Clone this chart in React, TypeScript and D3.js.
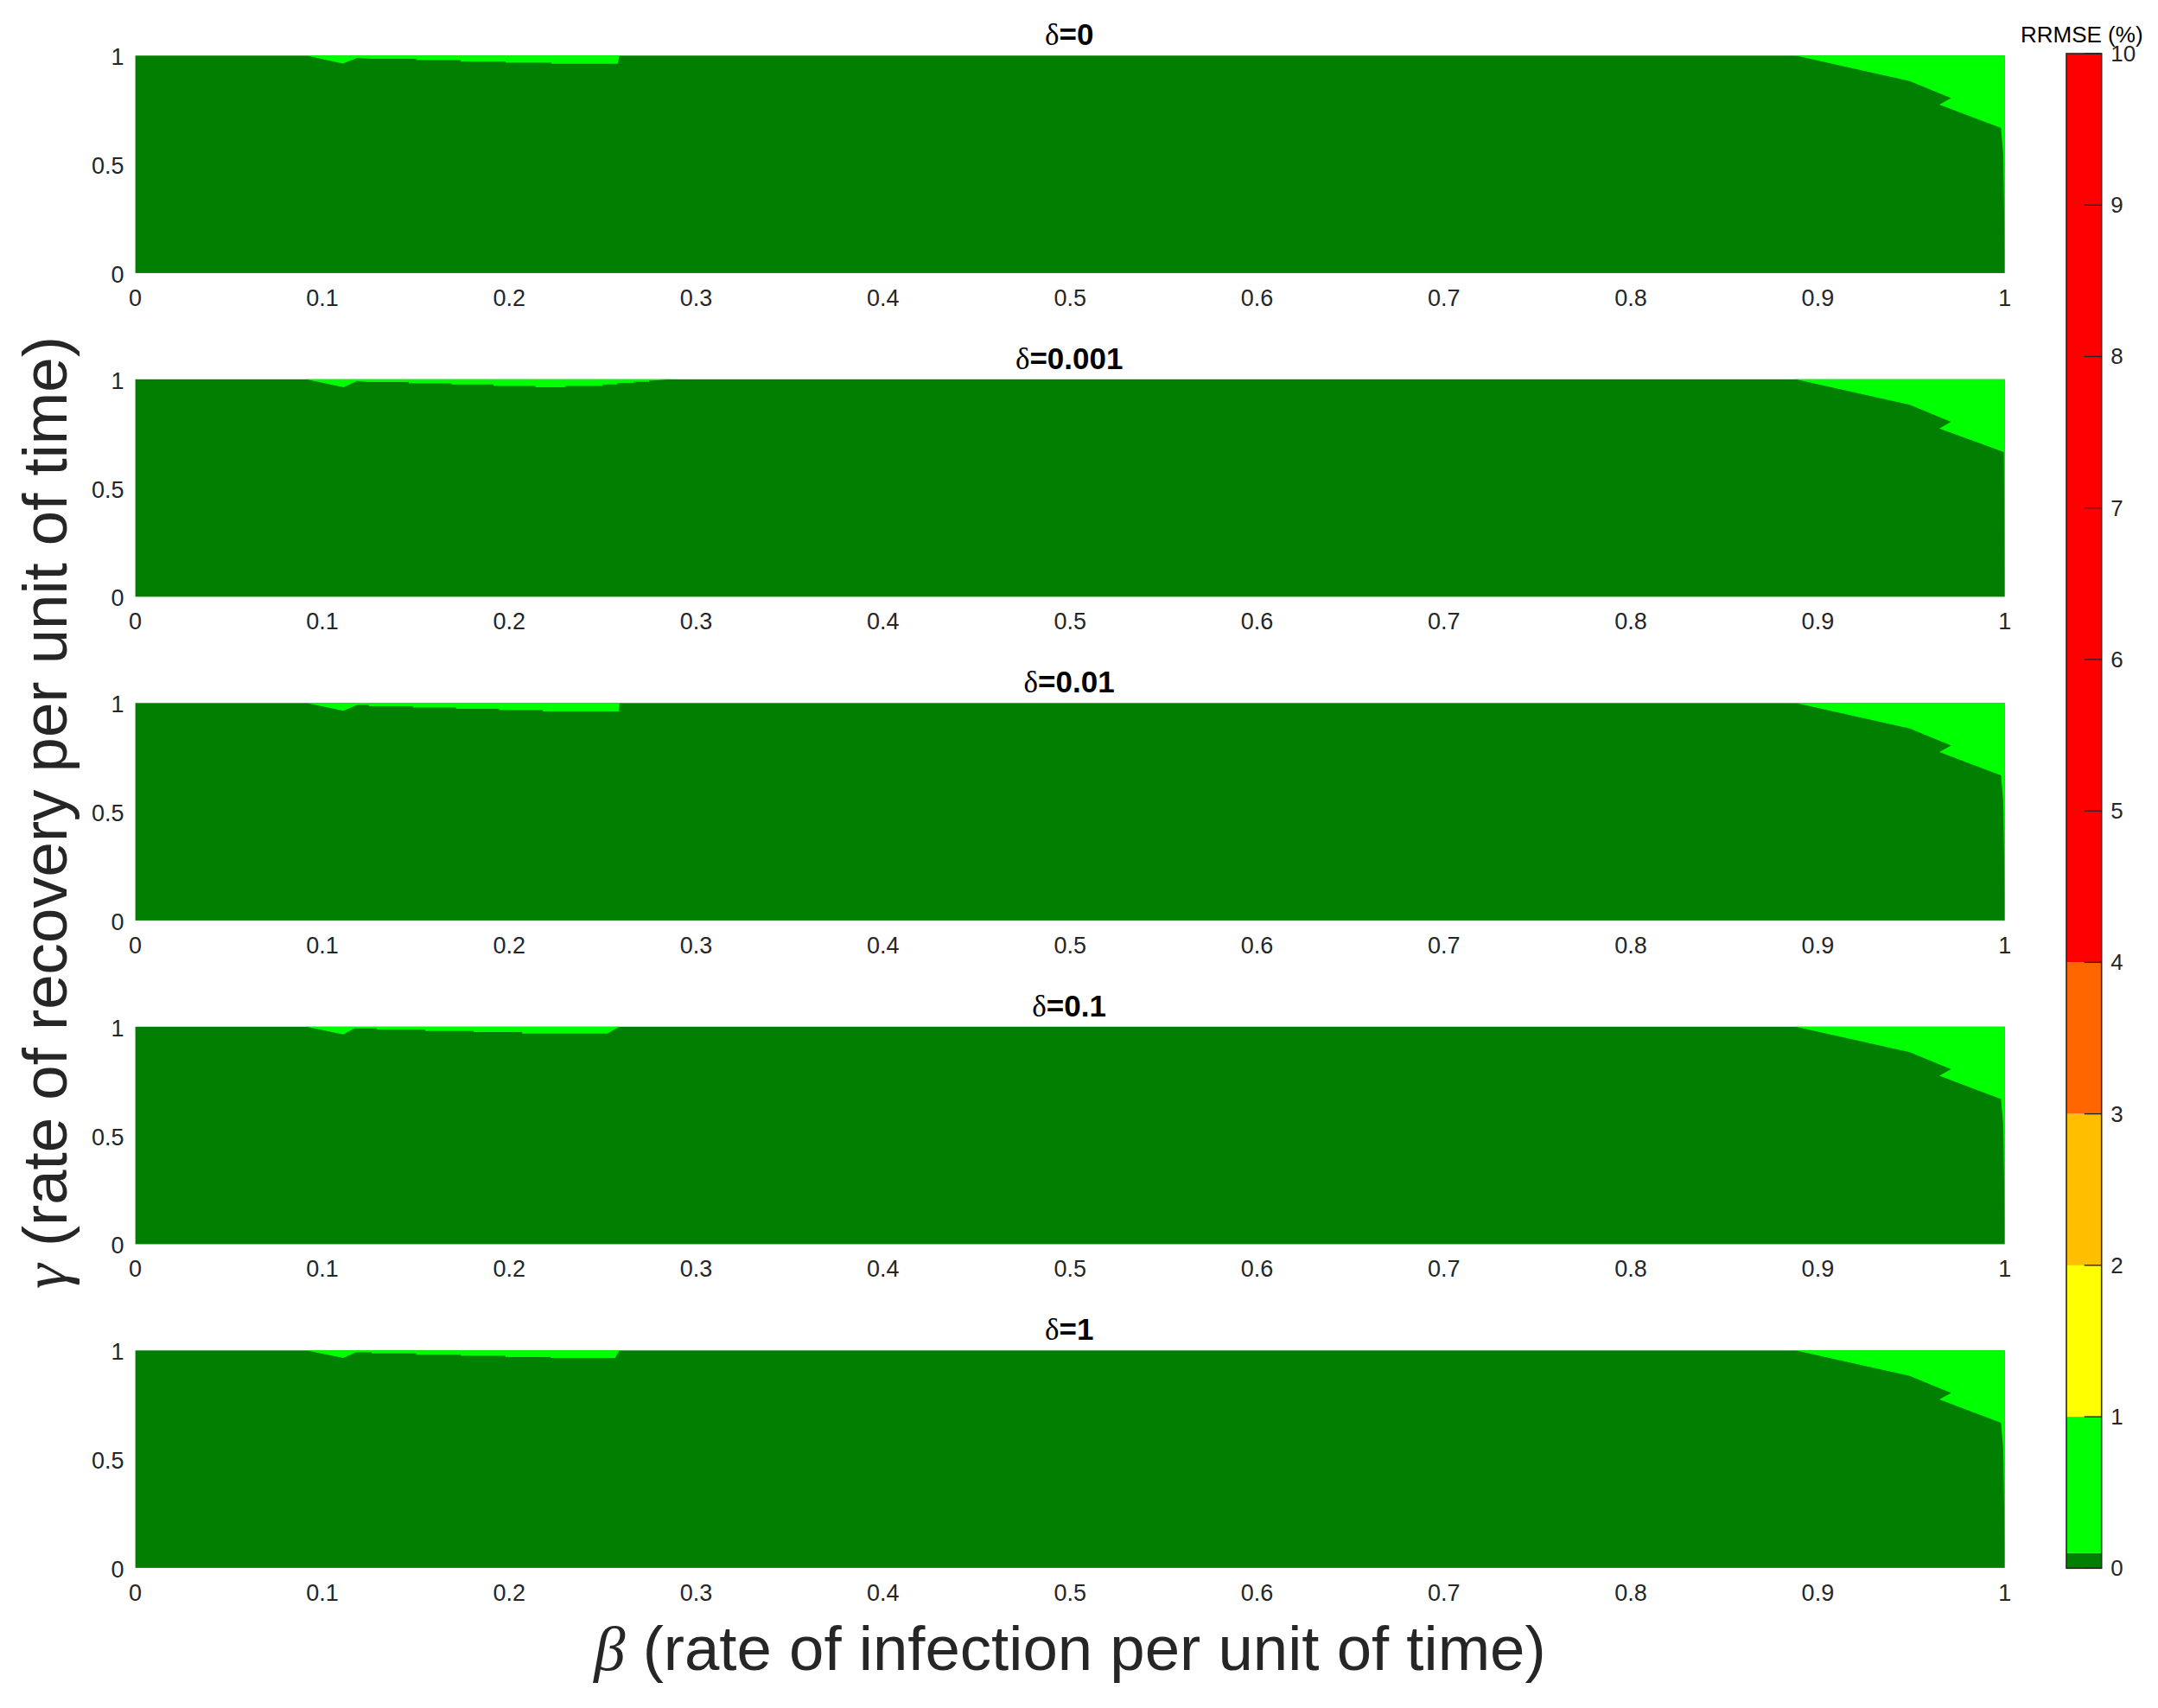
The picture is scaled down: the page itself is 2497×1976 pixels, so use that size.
import * as React from 'react';
import * as d3 from 'd3';

const WIDTH = 2497;
const HEIGHT = 1976;

const deltas = ['0', '0.001', '0.01', '0.1', '1'];
const yTicks = [0, 0.5, 1];

// boundary of the 0.1% contour near the low-beta edge, one pair of lists per panel
const lowBeta0 = [0.0913, 0.111, 0.1187, 0.1265, 0.1505, 0.1505, 0.174, 0.174, 0.198, 0.198, 0.2225, 0.2225, 0.258, 0.259];
const lowGamma0 = [1, 0.963, 0.989, 0.985, 0.985, 0.979, 0.979, 0.972, 0.972, 0.967, 0.967, 0.962, 0.962, 1];
const lowBeta1 = [0.0911, 0.1114, 0.1187, 0.1238, 0.1463, 0.1463, 0.169, 0.169, 0.1916, 0.1916, 0.214, 0.214, 0.23, 0.23, 0.2499, 0.2499, 0.2578, 0.2578, 0.2665, 0.2665, 0.2748, 0.2748, 0.2872];
const lowGamma1 = [1, 0.963, 0.992, 0.987, 0.987, 0.981, 0.981, 0.976, 0.976, 0.9695, 0.9695, 0.963, 0.963, 0.9695, 0.9695, 0.976, 0.976, 0.983, 0.983, 0.988, 0.988, 0.9934, 1];
const lowBeta2 = [0.0913, 0.1113, 0.1187, 0.1249, 0.1249, 0.1484, 0.1484, 0.1716, 0.1716, 0.1947, 0.1947, 0.218, 0.218, 0.2587, 0.259];
const lowGamma2 = [1, 0.964, 0.991, 0.991, 0.985, 0.985, 0.979, 0.979, 0.9735, 0.9735, 0.967, 0.967, 0.9616, 0.9616, 1];
const lowBeta3 = [0.0913, 0.1113, 0.1172, 0.1292, 0.1292, 0.155, 0.155, 0.181, 0.181, 0.2069, 0.2069, 0.2525, 0.259];
const lowGamma3 = [1, 0.964, 0.992, 0.992, 0.987, 0.987, 0.98, 0.98, 0.975, 0.975, 0.968, 0.968, 1];
const lowBeta4 = [0.0913, 0.1113, 0.118, 0.1264, 0.1264, 0.1503, 0.1503, 0.174, 0.174, 0.198, 0.198, 0.222, 0.222, 0.2566, 0.259];
const lowGamma4 = [1, 0.965, 0.991, 0.991, 0.986, 0.986, 0.98, 0.98, 0.975, 0.975, 0.9695, 0.9695, 0.965, 0.965, 1];

// boundary in the high-beta corner
const highBeta = [0.888, 0.9491, 0.9713, 0.965, 0.998, 0.9992, 1];
const highGamma = [1, 0.883, 0.804, 0.775, 0.667, 0.545, 0.095];
const highBeta1 = [0.888, 0.9491, 0.9712, 0.965, 0.9995, 1];
const highGamma1 = [1, 0.883, 0.804, 0.774, 0.665, 0.095];

const lowBoundaries = [
	[lowBeta0, lowGamma0],
	[lowBeta1, lowGamma1],
	[lowBeta2, lowGamma2],
	[lowBeta3, lowGamma3],
	[lowBeta4, lowGamma4],
];
const highBoundaries = [
	[highBeta, highGamma],
	[highBeta1, highGamma1],
	[highBeta, highGamma],
	[highBeta, highGamma],
	[highBeta, highGamma],
];

const colorStops = [0, 0.1, 1, 2, 3, 4, 10];
const stopColors = ['#007f00', '#00ff00', '#ffff00', '#ffbf00', '#ff6600', '#ff0000'];
const colorbarTicks = [0, 1, 2, 3, 4, 5, 6, 7, 8, 9, 10];

const INK = '#262626';
const SANS = '"Liberation Sans", Arial, sans-serif';
const GREEK = '"Liberation Serif", serif';

const panelLeft = 156.6;
const panelRight = 2319.7;
const panelTop = 64.3;
const panelStep = 374.5;
const panelHeight = 251.6;

const x = d3.scaleLinear().domain([0, 1]).range([panelLeft, panelRight]);
const barY = d3.scaleLinear().domain([0, 10]).range([1814.3, 62]);

const Panel = ({ index }: { index: number }) => {
	const top = panelTop + index * panelStep;
	const y = d3.scaleLinear().domain([0, 1]).range([top + panelHeight, top]);
	const area = d3
		.area<[number, number]>()
		.x(d => x(d[0]))
		.y0(y(1))
		.y1(d => y(d[1]));
	const patches = [lowBoundaries[index], highBoundaries[index]].map(([b, g]) =>
		area(b.map((v, i) => [v, g[i]] as [number, number]))
	);

	return (
		<g>
			<rect x={x(0)} y={y(1)} width={x(1) - x(0)} height={y(0) - y(1)} fill={stopColors[0]} />
			{patches.map((d, i) => (
				<path key={i} d={d ?? ''} fill={stopColors[1]} />
			))}
			<text x={x(0.5) - 1} y={top - 12} textAnchor='middle' fontSize={35} fontWeight='bold' fontFamily={SANS} fill='#000'>
				<tspan fontFamily={GREEK} fontWeight='normal'>δ</tspan>={deltas[index]}
			</text>
			{x.ticks(10).map(t => (
				<text key={t} x={x(t)} y={y(0) + 38} textAnchor='middle' fontSize={27} fontFamily={SANS} fill={INK}>
					{t}
				</text>
			))}
			{yTicks.map(t => (
				<text key={t} x={panelLeft - 13} y={y(t) + 11} textAnchor='end' fontSize={27} fontFamily={SANS} fill={INK}>
					{t}
				</text>
			))}
		</g>
	);
};

const Colorbar = () => {
	const left = 2391;
	const right = 2431.7;
	return (
		<g>
			{stopColors.map((c, i) => (
				<rect
					key={c}
					x={left}
					width={right - left}
					y={barY(colorStops[i + 1])}
					height={barY(colorStops[i]) - barY(colorStops[i + 1])}
					fill={c}
				/>
			))}
			<rect x={left} y={barY(10)} width={right - left} height={barY(0) - barY(10)} fill='none' stroke={INK} strokeWidth={1.6} />
			{colorbarTicks.map(t => (
				<g key={t}>
					<line x1={right - 20} x2={right} y1={barY(t)} y2={barY(t)} stroke={INK} strokeWidth={1.4} />
					<text x={right + 10.5} y={barY(t) + 9} fontSize={26} fontFamily={SANS} fill={INK}>
						{t}
					</text>
				</g>
			))}
			<text x={2338} y={49} fontSize={26} fontFamily={SANS} fill='#000'>
				RRMSE (%)
			</text>
		</g>
	);
};

export default function App() {
	return (
		<svg
			width={WIDTH}
			height={HEIGHT}
			viewBox={`0 0 ${WIDTH} ${HEIGHT}`}
			style={{ position: 'absolute', left: 0, top: 0, background: '#fff', display: 'block' }}
		>
			{deltas.map((_, i) => (
				<Panel key={i} index={i} />
			))}
			<Colorbar />
			<text x={1238} y={1932} textAnchor='middle' fontSize={72.6} fontFamily={SANS} fill={INK}>
				<tspan fontFamily={GREEK} fontStyle='italic'>β</tspan> (rate of infection per unit of time)
			</text>
			<text
				transform='translate(77 940) rotate(-90)'
				textAnchor='middle'
				fontSize={72.6}
				fontFamily={SANS}
				fill={INK}
			>
				<tspan fontFamily={GREEK} fontStyle='italic'>γ</tspan> (rate of recovery per unit of time)
			</text>
		</svg>
	);
}
